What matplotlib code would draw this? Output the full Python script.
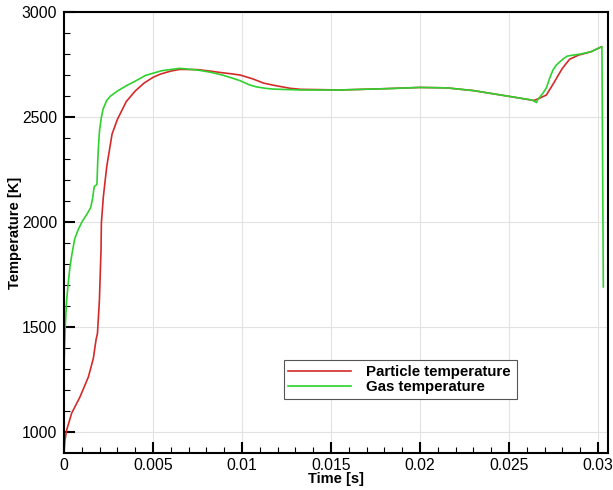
import numpy as np
import matplotlib
matplotlib.use("Agg")
import matplotlib.pyplot as plt
from matplotlib.ticker import MultipleLocator, FixedLocator

plt.rcParams['font.family'] = ['Liberation Sans', 'DejaVu Sans']

# Gas temperature (time [s], temperature [K])
gas_t = [0, 0.00008, 0.00015, 0.00025, 0.00034, 0.00045, 0.0006, 0.0008, 0.001,
         0.0013, 0.0015, 0.0016, 0.0017, 0.00185, 0.0019, 0.00195, 0.002, 0.0021,
         0.0022, 0.0024, 0.0026, 0.003, 0.0035, 0.004, 0.0046, 0.0055, 0.0065,
         0.0075, 0.0082, 0.0089, 0.0094, 0.0099, 0.0104, 0.0108, 0.0113, 0.0118,
         0.0133, 0.0155, 0.018, 0.02, 0.0215, 0.023, 0.0249, 0.0263, 0.02655,
         0.0266, 0.0269, 0.0271, 0.0273, 0.02747, 0.02765, 0.02787, 0.0281,
         0.0283, 0.029, 0.0296, 0.03022, 0.0303]
gas_T = [1310, 1520, 1630, 1720, 1790, 1850, 1920, 1965, 2000,
         2040, 2070, 2110, 2170, 2180, 2300, 2380, 2440, 2500,
         2540, 2580, 2600, 2625, 2650, 2672, 2700, 2722, 2733,
         2725, 2715, 2701, 2688, 2674, 2655, 2645, 2638, 2634,
         2630, 2630, 2636, 2642, 2640, 2627, 2601, 2582, 2570,
         2582, 2614, 2640, 2690, 2725, 2748, 2765, 2782,
         2792, 2801, 2812, 2836, 1692]

# Particle temperature
part_t = [0, 0.00005, 0.00015, 0.00043, 0.0009, 0.00137, 0.00165, 0.0018,
          0.00188, 0.00199, 0.00208, 0.0021, 0.00221, 0.0024, 0.0027, 0.003,
          0.0035, 0.004, 0.0045, 0.005, 0.0054, 0.006, 0.0065, 0.0075, 0.0082,
          0.0089, 0.0094, 0.0099, 0.0106, 0.0112, 0.0118, 0.0127, 0.0133,
          0.0155, 0.018, 0.02, 0.0215, 0.023, 0.0249, 0.0264, 0.0267, 0.0271,
          0.0275, 0.0278, 0.028, 0.0284, 0.0289, 0.0296, 0.0302]
part_T = [905, 960, 1010, 1090, 1168, 1263, 1352, 1440,
          1471, 1630, 1868, 1996, 2121, 2264, 2420, 2490,
          2575, 2625, 2663, 2690, 2705, 2720, 2728, 2727, 2720,
          2712, 2707, 2701, 2683, 2663, 2652, 2638, 2633,
          2630, 2636, 2642, 2640, 2627, 2601, 2580, 2590, 2606,
          2661, 2705, 2733, 2776, 2796, 2812, 2836]

fig = plt.figure(figsize=(6.13, 4.9), dpi=100)
ax = fig.add_axes([0.1044, 0.0761, 0.8874, 0.8988])

ax.plot(part_t, part_T, color="#d42a2a", lw=1.2, label="Particle temperature")
ax.plot(gas_t, gas_T, color="#2fd12f", lw=1.2, label="Gas temperature")

ax.set_xlim(0, 0.03056)
ax.set_ylim(902, 3000)
ax.xaxis.set_major_locator(FixedLocator([0, 0.005, 0.01, 0.015, 0.02, 0.025, 0.03]))
ax.set_xticklabels(["0", "0.005", "0.01", "0.015", "0.02", "0.025", "0.03"])
ax.xaxis.set_minor_locator(MultipleLocator(0.001))
ax.yaxis.set_major_locator(MultipleLocator(500))
ax.yaxis.set_minor_locator(MultipleLocator(100))

ax.tick_params(which="both", direction="in", top=False, right=False, labelsize=11.3)
ax.tick_params(which="major", length=8, width=1.5)
ax.tick_params(which="minor", length=4, width=0.8)
ax.tick_params(axis="x", pad=4)
ax.tick_params(axis="y", pad=5)

for s in ax.spines.values():
    s.set_linewidth(1.5)

ax.grid(True, which="major", color="#e2e2e2", lw=0.8)
ax.set_axisbelow(True)

ax.set_xlabel("Time [s]", fontsize=10.5, fontweight="bold", labelpad=-1)
ax.set_ylabel("Temperature [K]", fontsize=10.5, fontweight="bold", labelpad=0)

leg = ax.legend(loc="lower left", bbox_to_anchor=(0.404, 0.122, 0.428, 0.104),
                mode="expand", fancybox=False, framealpha=1, edgecolor="#555555",
                prop={"weight": "bold", "size": 10.8}, handlelength=4.2,
                borderpad=0.3, labelspacing=0.1, handletextpad=1.0, borderaxespad=0)
leg.get_frame().set_linewidth(0.8)

fig.savefig("out.png", dpi=100)
